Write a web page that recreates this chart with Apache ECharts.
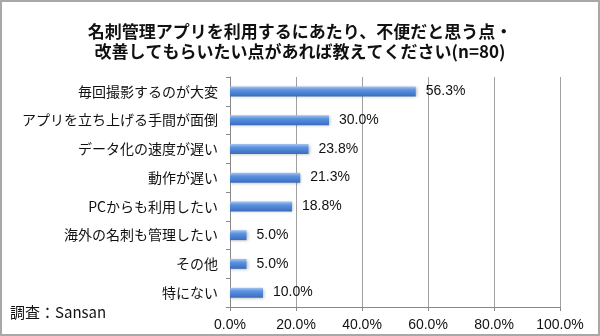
<!DOCTYPE html>
<html><head><meta charset="utf-8">
<script src="https://cdn.jsdelivr.net/npm/echarts@6/dist/echarts.min.js"></script>
<style>html,body{margin:0;padding:0;background:#fff}#c{width:600px;height:336px}</style>
</head><body><div id="c"></div>
<script>
const categories = ['毎回撮影するのが大変','アプリを立ち上げる手間が面倒','データ化の速度が遅い','動作が遅い','PCからも利用したい','海外の名刺も管理したい','その他','特にない'];
const values = [56.3, 30.0, 23.8, 21.3, 18.8, 5.0, 5.0, 10.0];
const titleLines = ['名刺管理アプリを利用するにあたり、不便だと思う点・','改善してもらいたい点があれば教えてください(n=80)'];
const sourceText = '調査：Sansan';
const FONT = '"Noto Sans CJK JP", "Noto Sans", sans-serif';
const chart = echarts.init(document.getElementById('c'));
chart.setOption({
  backgroundColor: '#fff',
  animation: false,
  title: {
    text: titleLines.join('\n'), left: 'center', top: 17,
    textStyle: {fontFamily: FONT, fontSize: 17, fontWeight: 'bold', color: '#111', lineHeight: 20}
  },
  graphic: [
    {type: 'rect', shape: {x: 1, y: 1, width: 598, height: 334}, style: {fill: 'none', stroke: '#a8a8a8', lineWidth: 2}},
    {type: 'text', left: 10, top: 305, style: {text: sourceText, font: '15px ' + FONT, fill: '#111'}}
  ],
  grid: {left: 230, right: 40, top: 77, bottom: 29, containLabel: false},
  xAxis: {
    type: 'value', min: 0, max: 100, interval: 20,
    axisLine: {show: true, lineStyle: {color: '#888'}},
    axisTick: {show: true, length: 4, lineStyle: {color: '#888'}},
    axisLabel: {formatter: v => v.toFixed(1) + '%', fontFamily: 'Liberation Sans, Arial, sans-serif', fontSize: 14, color: '#111', margin: 11},
    splitLine: {show: true, lineStyle: {color: '#a0a0a0', width: 1}}
  },
  yAxis: {
    type: 'category', data: categories, inverse: true,
    axisLine: {show: true, lineStyle: {color: '#888'}},
    axisTick: {show: true, length: 4, lineStyle: {color: '#888'}},
    axisLabel: {fontFamily: FONT, fontSize: 14, color: '#111', margin: 12}
  },
  series: [{
    type: 'bar', data: values, barWidth: 10,
    itemStyle: {
      color: new echarts.graphic.LinearGradient(0, 0, 0, 1, [
        {offset: 0, color: '#a9c6f0'}, {offset: 0.35, color: '#5b93e0'}, {offset: 1, color: '#3a6cc0'}
      ]),
      shadowColor: 'rgba(0,0,0,0.25)', shadowBlur: 3, shadowOffsetY: 1, shadowOffsetX: 1
    },
    label: {show: true, position: 'right', distance: 10, formatter: p => p.value.toFixed(1) + '%',
      fontFamily: 'Liberation Sans, Arial, sans-serif', fontSize: 14, color: '#111'}
  }]
});
</script></body></html>
